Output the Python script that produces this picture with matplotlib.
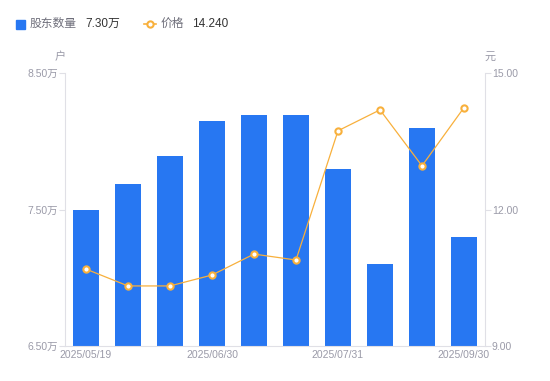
import matplotlib.pyplot as plt
from matplotlib.lines import Line2D

plt.rcParams['font.family'] = ['Liberation Sans', 'Noto Sans CJK SC', 'DejaVu Sans']

# data
dates = ["2025/05/19", "2025/05/31", "2025/06/15", "2025/06/30", "2025/07/10",
         "2025/07/20", "2025/07/31", "2025/08/20", "2025/08/31", "2025/09/30"]
holders = [7.50, 7.69, 7.89, 8.15, 8.19, 8.19, 7.80, 7.10, 8.10, 7.30]  # 万户
price = [10.69, 10.32, 10.32, 10.56, 11.02, 10.89, 13.73, 14.19, 12.96, 14.24]
shown_ticks = [0, 3, 6, 9]

BLUE = "#2777F2"
ORANGE = "#F8B03C"
GRAY = "#9A9AA8"
AXIS = "#E0E0E6"

fig = plt.figure(figsize=(5.5, 3.81), dpi=100)
ax = fig.add_axes([65 / 550, 35 / 381, 420 / 550, 273 / 381])
x = range(len(dates))
ax.bar(x, holders, width=0.6, color=BLUE, zorder=2)
ax.set_xlim(-0.5, len(dates) - 0.5)
ax.set_ylim(6.5, 8.5)
ax.set_yticks([6.5, 7.5, 8.5])
ax.set_yticklabels([f"{v:.2f}万" for v in [6.5, 7.5, 8.5]])
ax.set_xticks(shown_ticks)
ax.set_xticklabels([dates[i] for i in shown_ticks])

ax2 = ax.twinx()
ax2.plot(x, price, color=ORANGE, lw=0.9, marker="o", ms=4.5, mfc="white",
         mec=ORANGE, mew=1.5, zorder=3)
ax2.set_ylim(9, 15)
ax2.set_yticks([9, 12, 15])
ax2.set_yticklabels([f"{v:.2f}" for v in [9, 12, 15]])

for a in (ax, ax2):
    for s in a.spines.values():
        s.set_visible(False)
    a.tick_params(colors=GRAY, labelsize=7.5, length=4, width=0.8)
    a.tick_params(axis="y", color=AXIS, pad=1)
ax.tick_params(axis="x", length=0, pad=3)
ax.spines["left"].set_visible(True)
ax.spines["left"].set_color(AXIS)
ax.spines["bottom"].set_visible(True)
ax.spines["bottom"].set_color(AXIS)
ax2.spines["right"].set_visible(True)
ax2.spines["right"].set_color(AXIS)

# unit labels
fig.text(60 / 550, 1 - 57 / 381, "户", color=GRAY, fontsize=8, ha="center", va="center")
fig.text(490 / 550, 1 - 57 / 381, "元", color=GRAY, fontsize=8, ha="center", va="center")

# legend drawn as figure text
fig.patches.append(plt.Rectangle((16 / 550, 1 - 29 / 381), 9 / 550, 9 / 381,
                                 transform=fig.transFigure, color=BLUE, figure=fig))
fig.text(30 / 550, 1 - 24 / 381, "股东数量", color="#6E6E7A", fontsize=8.5, va="center")
fig.text(85 / 550, 1 - 24 / 381, "7.30万", color="#333333", fontsize=8.5, va="center")
fig.lines.append(Line2D([144 / 550, 156 / 550], [1 - 24 / 381, 1 - 24 / 381],
                        transform=fig.transFigure, color=ORANGE, lw=1.2))
fig.lines.append(Line2D([150 / 550], [1 - 24 / 381], transform=fig.transFigure,
                        color=ORANGE, marker="o", ms=4.5, mfc="white", mew=1.5))
fig.text(161 / 550, 1 - 24 / 381, "价格", color="#6E6E7A", fontsize=8.5, va="center")
fig.text(192 / 550, 1 - 24 / 381, "14.240", color="#333333", fontsize=8.5, va="center")

fig.savefig("out.png", dpi=100)
